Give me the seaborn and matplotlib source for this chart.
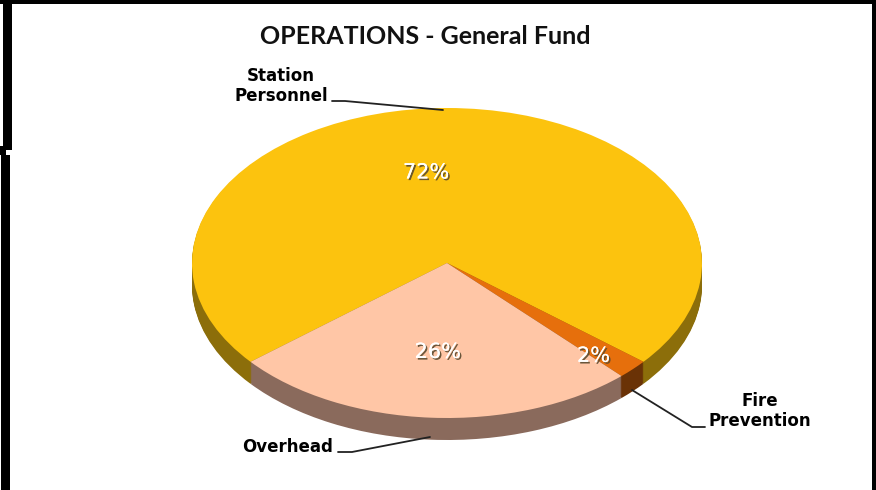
import matplotlib
matplotlib.use("Agg")
import matplotlib.pyplot as plt
import matplotlib.patheffects as pe
from matplotlib.patches import Rectangle
import numpy as np
import seaborn as sns

# ---- data ----
categories = ["Station Personnel", "Fire Prevention", "Overhead"]
shares = [72, 2, 26]
label_text = ["Station\nPersonnel", "Fire\nPrevention", "Overhead"]
title = "OPERATIONS - General Fund"

sns.set_theme(style="white")
plt.rcParams['font.family'] = ['DejaVu Sans']

W, H = 876, 490
fig = plt.figure(figsize=(W / 100, H / 100), dpi=100)
fig.patch.set_facecolor('white')

top_colors = sns.color_palette(["#FCC30E", "#E66F0C", "#FFC6A6"])
side_colors = sns.color_palette(["#8C6E0A", "#6A3206", "#8A6A5C"])

# ellipse geometry (pixels)
cx, cy, rx, ry, depth = 447, 263, 255, 155, 22
start = 219.6

ax = fig.add_axes([0, 0, 1, 1])
for k in range(depth, 0, -1):
    ax.pie(shares, colors=side_colors, startangle=start, counterclock=False,
           center=(0, -k / ry), wedgeprops=dict(linewidth=0))
wedges, texts, autotexts = ax.pie(
    shares, colors=top_colors, startangle=start, counterclock=False,
    autopct='%1.0f%%', pctdistance=0.58, wedgeprops=dict(linewidth=0),
    textprops=dict(color='white', fontsize=15))
ax.set_xlim(-cx / rx, (W - cx) / rx)
ax.set_ylim((cy - H) / ry, cy / ry)
ax.set_aspect('auto')
ax.axis('off')

# percentage label placement (radius, angle shift)
pct_adj = [(0.59, 8), (0.83, -3), (0.575, 0)]
for w, t, (r, da) in zip(wedges, autotexts, pct_adj):
    th = np.deg2rad((w.theta1 + w.theta2) / 2 + da)
    t.set_position((r * np.cos(th), r * np.sin(th)))
    t.set_path_effects([pe.withSimplePatchShadow(offset=(1.2, -1.2), shadow_rgbFace='#5a4a30', alpha=0.9),
                        pe.Normal()])

# overlay in pixel coords
ov = fig.add_axes([0, 0, 1, 1], facecolor='none')
ov.set_xlim(0, W)
ov.set_ylim(H, 0)
ov.axis('off')

# frame
for (x, y, w, h) in [(0, 0, W, 4), (3, 0, 9, 150), (0, 146, 6, 9), (1, 155, 9, H - 155), (872, 0, 4, H)]:
    ov.add_patch(Rectangle((x, y), w, h, color='black', lw=0))

ov.text(425, 37, title, ha='center', va='center', fontsize=18,
        fontweight='bold', family='Lato', color='#111111')

lab_kw = dict(ha='center', va='center', fontsize=12, fontweight='heavy',
              color='black', linespacing=1.15)
ov.text(281, 86, label_text[0], **lab_kw)
ov.text(760, 411, label_text[1], **lab_kw)
ov.text(288, 447, label_text[2], **lab_kw)

line_kw = dict(color='#222222', lw=1.3)
ov.plot([332, 345, 443], [101, 101, 110], **line_kw)
ov.plot([632, 692, 705], [390, 427, 427], **line_kw)
ov.plot([338, 352, 430], [452, 452, 437], **line_kw)

fig.savefig("out.png", dpi=100, facecolor='white')
